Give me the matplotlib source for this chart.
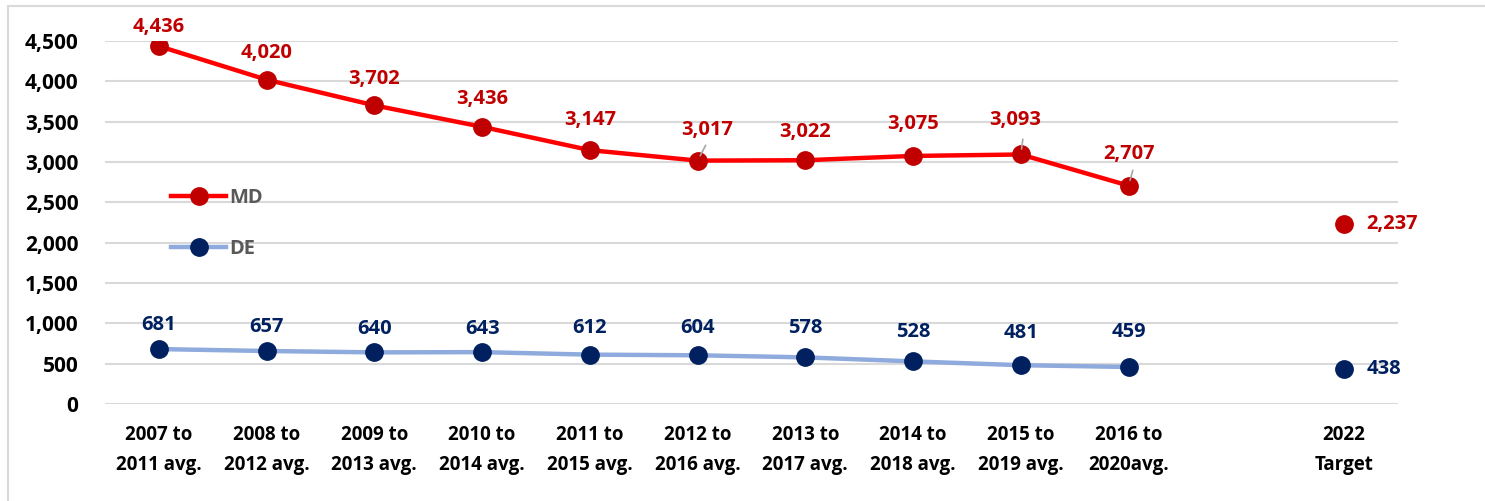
import matplotlib.pyplot as plt
import numpy as np
from matplotlib.patches import Rectangle

# categories (slot 10 is an empty gap before the target)
categories = ["2007 to\n2011 avg.", "2008 to\n2012 avg.", "2009 to\n2013 avg.",
              "2010 to\n2014 avg.", "2011 to\n2015 avg.", "2012 to\n2016 avg.",
              "2013 to\n2017 avg.", "2014 to\n2018 avg.", "2015 to\n2019 avg.",
              "2016 to\n2020avg.", "", "2022\nTarget"]
md_values = [4436, 4020, 3702, 3436, 3147, 3017, 3022, 3075, 3093, 2707, np.nan, 2237]
de_values = [681, 657, 640, 643, 612, 604, 578, 528, 481, 459, np.nan, 438]

plt.rcParams["font.family"] = ["Open Sans", "DejaVu Sans"]

fig = plt.figure(figsize=(14.85, 5.01), dpi=100)
ax = fig.add_axes([0.0707, 0.1936, 0.8707, 0.7246])

# chart frame
fig.patches.append(Rectangle((8 / 1485, -0.01), 1.1, 1 - 6 / 501 + 0.01,
                             transform=fig.transFigure, fill=False,
                             edgecolor="#d9d9d9", linewidth=1.5))

x = np.arange(len(categories))
md = np.array(md_values, dtype=float)
de = np.array(de_values, dtype=float)

ax.plot(x, md, color="#ff0000", linewidth=3.2, marker="o", markersize=12.5,
        markerfacecolor="#c00000", markeredgecolor="#c00000", label="MD", zorder=3)
ax.plot(x, de, color="#8faadc", linewidth=3.2, marker="o", markersize=12.5,
        markerfacecolor="#002060", markeredgecolor="#002060", label="DE", zorder=3)

# label offsets in points (dx, dy); target labels sit to the right
md_offsets = [(0, 14), (0, 19), (0, 19), (0, 20), (0, 22), (7, 22), (0, 20), (0, 23), (-4, 25), (0, 23), None, (16, 0)]
de_offsets = [(0, 17), (0, 17), (0, 17), (0, 17), (0, 19), (0, 20), (0, 21), (0, 21), (0, 23), (0, 25), None, (16, 0)]
leader = {5, 8, 9}
last = len(categories) - 1

for i in range(len(categories)):
    ha = "left" if i == last else "center"
    if not np.isnan(md[i]):
        dx, dy = md_offsets[i]
        ax.annotate(f"{int(md[i]):,}", (x[i], md[i]), xytext=(dx, dy),
                    textcoords="offset points", ha=ha, va="center",
                    color="#c00000", fontsize=14.5, fontweight="bold", annotation_clip=False)
        if i in leader:
            ax.annotate("", (x[i], md[i]), xytext=(dx * 0.4 + 3, 11), textcoords="offset points",
                        arrowprops=dict(arrowstyle="-", color="#a6a6a6", lw=1.2,
                                        shrinkA=0, shrinkB=4), annotation_clip=False)
    if not np.isnan(de[i]):
        dx, dy = de_offsets[i]
        ax.annotate(f"{int(de[i]):,}", (x[i], de[i]), xytext=(dx, dy),
                    textcoords="offset points", ha=ha, va="center",
                    color="#002060", fontsize=14.5, fontweight="bold", annotation_clip=False)

ax.set_xlim(-0.5, len(categories) - 0.5)
ax.set_ylim(0, 4500)
ax.set_yticks(np.arange(0, 4501, 500))
ax.set_yticklabels([f"{v:,}" for v in range(0, 4501, 500)])
ax.set_xticks(x)
ax.set_xticklabels(categories, linespacing=1.65)
ax.tick_params(axis="y", length=0, pad=19, labelsize=15)
ax.tick_params(axis="x", length=0, pad=15, labelsize=13.5)
for lab in ax.get_yticklabels() + ax.get_xticklabels():
    lab.set_fontweight("bold")
    lab.set_color("black")
ax.grid(axis="y", color="#d9d9d9", linewidth=1.5)
ax.set_axisbelow(True)
for s in ax.spines.values():
    s.set_visible(False)

leg = ax.legend(loc="upper left", bbox_to_anchor=(0.037, 0.645), frameon=False,
                fontsize=14.5, labelspacing=1.52, handlelength=2.75, handletextpad=0.15)
for t in leg.get_texts():
    t.set_color("#595959")
    t.set_fontweight("bold")

fig.savefig("out.png", dpi=100)
